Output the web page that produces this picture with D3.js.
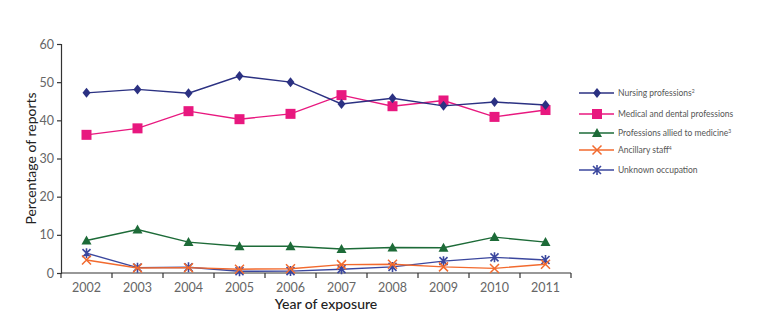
<!DOCTYPE html>
<html>
<head>
<meta charset="utf-8">
<script src="https://cdn.jsdelivr.net/npm/d3@7"></script>
<style>
  body { margin: 0; background: #fff; }
  text { font-family: Lato, "Open Sans", sans-serif; }
</style>
</head>
<body>
<div id="chart"></div>
<script>
// Data
var years = ["2002", "2003", "2004", "2005", "2006", "2007", "2008", "2009", "2010", "2011"];
var nursing = [47.2, 48.1, 47.1, 51.6, 50.0, 44.3, 45.8, 43.8, 44.8, 44.0];
var medical = [36.2, 37.9, 42.4, 40.3, 41.7, 46.6, 43.7, 45.2, 40.9, 42.7];
var allied = [8.5, 11.4, 8.1, 7.0, 7.0, 6.3, 6.7, 6.6, 9.4, 8.1];
var ancillary = [3.4, 1.3, 1.4, 1.0, 1.1, 2.2, 2.3, 1.6, 1.2, 2.3];
var unknown = [5.2, 1.4, 1.5, 0.45, 0.5, 1.0, 1.6, 3.1, 4.1, 3.4];
var yTicks = [0, 10, 20, 30, 40, 50, 60];

var series = [
  { name: "Nursing professions", sup: "2", values: nursing, color: "#2b3182", symbol: "diamond" },
  { name: "Medical and dental professions", sup: "", values: medical, color: "#e8187f", symbol: "square" },
  { name: "Professions allied to medicine", sup: "3", values: allied, color: "#1d6b38", symbol: "triangle" },
  { name: "Ancillary staff", sup: "4", values: ancillary, color: "#f26a2e", symbol: "cross" },
  { name: "Unknown occupation", sup: "", values: unknown, color: "#3b479e", symbol: "star" }
];

var w = 757, h = 325;
var svg = d3.select("#chart").append("svg").attr("width", w).attr("height", h);

// plot area (note: "top" is reserved on window, so use plotTop)
var plotLeft = 61, plotRight = 571, plotTop = 44, plotBottom = 273;

var xScale = d3.scaleBand().domain(years).range([plotLeft, plotRight]);
var yScale = d3.scaleLinear().domain([0, 60]).range([plotBottom, plotTop]);
function cx(i) { return xScale(years[i]) + xScale.bandwidth() / 2; }

// x axis with ticks on band edges
var xg = svg.append("g").attr("transform", "translate(0," + plotBottom + ")");
xg.append("line").attr("x1", plotLeft).attr("x2", plotRight).attr("stroke", "#333").attr("stroke-width", 1.2);
var edges = years.map(function (y) { return xScale(y); }).concat([plotRight]);
xg.selectAll(".tk").data(edges).enter().append("line")
  .attr("x1", function (d) { return d; }).attr("x2", function (d) { return d; })
  .attr("y1", 0).attr("y2", 5).attr("stroke", "#333").attr("stroke-width", 1.2);
xg.selectAll(".lb").data(years).enter().append("text")
  .attr("x", function (d) { return xScale(d) + xScale.bandwidth() / 2; })
  .attr("y", 19).attr("text-anchor", "middle")
  .style("font-size", "12.5px").style("fill", "#666").text(function (d) { return d; });

// y axis
var yg = svg.append("g").attr("transform", "translate(" + plotLeft + ",0)");
yg.call(d3.axisLeft(yScale).tickValues(yTicks).tickSize(4).tickPadding(3));
yg.select(".domain").attr("stroke", "#333").attr("stroke-width", 1.2);
yg.selectAll(".tick line").attr("stroke", "#333").attr("stroke-width", 1.2);
yg.selectAll(".tick text").style("font-size", "12.5px").style("fill", "#666")
  .style("font-family", "Lato, 'Open Sans', sans-serif");

// axis titles
svg.append("text").attr("x", 326).attr("y", 309).attr("text-anchor", "middle")
  .style("font-size", "14px").style("fill", "#222").style("font-weight", "500").text("Year of exposure");
svg.append("text").attr("transform", "translate(36," + ((plotTop + plotBottom) / 2) + ") rotate(-90)")
  .attr("text-anchor", "middle").style("font-size", "14px").style("fill", "#222")
  .text("Percentage of reports");

function drawSymbol(g, s, x, y) {
  if (s.symbol === "diamond") {
    g.append("path").attr("d", "M" + x + "," + (y - 5) + "L" + (x + 4) + "," + y + "L" + x + "," + (y + 5) + "L" + (x - 4) + "," + y + "Z")
      .attr("fill", s.color);
  } else if (s.symbol === "square") {
    g.append("rect").attr("x", x - 5).attr("y", y - 5).attr("width", 10).attr("height", 10).attr("fill", s.color);
  } else if (s.symbol === "triangle") {
    g.append("path").attr("d", "M" + x + "," + (y - 5) + "L" + (x + 5) + "," + (y + 4) + "L" + (x - 5) + "," + (y + 4) + "Z")
      .attr("fill", s.color);
  } else if (s.symbol === "cross") {
    g.append("path").attr("d", "M" + (x - 4.5) + "," + (y - 4.5) + "L" + (x + 4.5) + "," + (y + 4.5) + "M" + (x + 4.5) + "," + (y - 4.5) + "L" + (x - 4.5) + "," + (y + 4.5))
      .attr("stroke", s.color).attr("stroke-width", 1.5).attr("fill", "none");
  } else {
    g.append("path").attr("d", "M" + (x - 4) + "," + (y - 4) + "L" + (x + 4) + "," + (y + 4) + "M" + (x + 4) + "," + (y - 4) + "L" + (x - 4) + "," + (y + 4) + "M" + x + "," + (y - 5) + "L" + x + "," + (y + 5))
      .attr("stroke", s.color).attr("stroke-width", 1.6).attr("fill", "none");
  }
}

var line = d3.line().x(function (d, i) { return cx(i); }).y(function (d) { return yScale(d); });

// draw lower series first so upper ones sit on top
series.slice().reverse().forEach(function (s) {
  var g = svg.append("g");
  g.append("path").datum(s.values).attr("d", line)
    .attr("fill", "none").attr("stroke", s.color).attr("stroke-width", 1.4);
  s.values.forEach(function (v, i) { drawSymbol(g, s, cx(i), yScale(v)); });
});

// legend
var legY = [93, 114, 133, 150, 170];
series.forEach(function (s, i) {
  var g = svg.append("g");
  var y = legY[i];
  g.append("line").attr("x1", 579).attr("x2", 614).attr("y1", y).attr("y2", y)
    .attr("stroke", s.color).attr("stroke-width", 1.4);
  drawSymbol(g, s, 597, y);
  var t = g.append("text").attr("x", 618).attr("y", y + 3)
    .style("font-size", "8.5px").style("fill", "#555").text(s.name);
  if (s.sup) t.append("tspan").attr("dy", -3).style("font-size", "5px").text(s.sup);
});
</script>
</body>
</html>
